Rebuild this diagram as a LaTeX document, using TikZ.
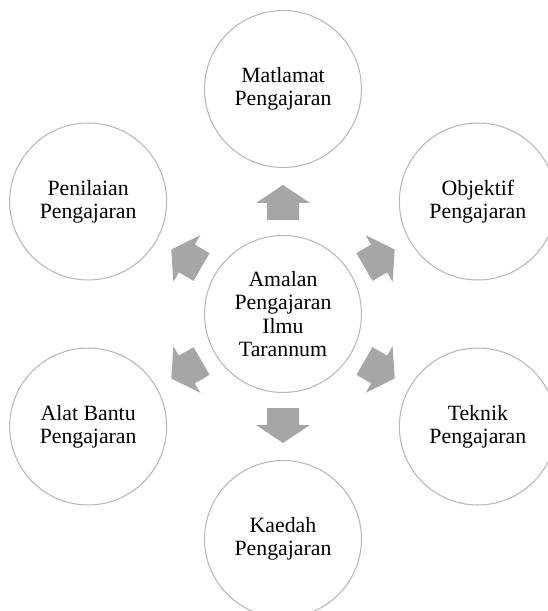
\documentclass[tikz,border=0pt]{standalone}
\usepackage{fontspec}
\setmainfont{Liberation Serif}
\usepackage{tikz}
\tikzset{
    %Define style for circles
    topic/.style={
           circle,
           draw=black!28, line width=0.6pt,
           fill=white,
           minimum size=3.14cm,
           inner sep=0pt,
           font=\fontsize{12.4}{13.3}\selectfont,
           align=center},
    hubnode/.style={topic},
    % Define block arrow style
    blockarrow/.style={
           fill=black!35,
           draw=none}
}

\begin{document}
\begin{tikzpicture}[x=0.02cm,y=0.02cm]
 \useasboundingbox (-283,-297) rectangle (264,314);

 %nodes
\node[hubnode](hub) at (0,0){Amalan\\Pengajaran\\Ilmu\\Tarannum};
\node[topic](matlamat) at (90:225){Matlamat\\Pengajaran};
\node[topic](objektif) at (30:225){Objektif\\Pengajaran};
\node[topic](teknik) at (-30:225){Teknik\\Pengajaran};
\node[topic](kaedah) at (-90:225){Kaedah\\Pengajaran};
\node[topic](alat) at (-150:225){Alat Bantu\\Pengajaran};
\node[topic](penilaian) at (150:225){Penilaian\\Pengajaran};

 %arrows
\foreach \a in {90,30,-30,-90,-150,150}
  \fill[blockarrow, shift={(hub.center)}, rotate=\a]
     (94,-16) -- (111,-16) -- (111,-27) -- (129,0) -- (111,27) -- (111,16) -- (94,16) -- cycle;

\end{tikzpicture}
\end{document}
